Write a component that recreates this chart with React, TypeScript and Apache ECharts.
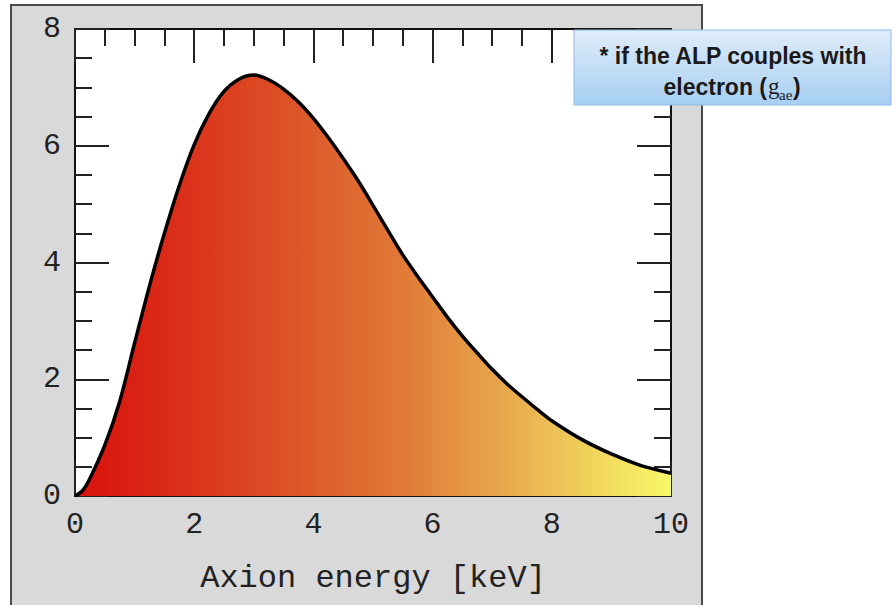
import React, { useEffect, useRef } from "react";
import * as echarts from "echarts";

// Axion energy [keV]
const energy = [0, 0.125, 0.25, 0.5, 0.75, 1, 1.25, 1.5, 1.75, 2, 2.25, 2.5, 2.75, 3, 3.25, 3.5, 3.75, 4, 4.25, 4.5, 4.75, 5, 5.25, 5.5, 5.75, 6, 6.25, 6.5, 6.75, 7, 7.25, 7.5, 7.75, 8, 8.5, 9, 9.5, 10];
// spectrum value
const flux = [0, 0.09, 0.3, 0.87, 1.62, 2.62, 3.6, 4.5, 5.32, 6.02, 6.55, 6.93, 7.14, 7.21, 7.13, 6.97, 6.75, 6.47, 6.14, 5.78, 5.4, 4.98, 4.55, 4.13, 3.76, 3.41, 3.06, 2.74, 2.45, 2.17, 1.92, 1.7, 1.49, 1.29, 0.97, 0.72, 0.52, 0.39];

const xRange = [0, 10];
const yRange = [0, 8];
const majorStep = 2;
const xAxisName = "Axion energy [keV]";
const noteLine1 = "* if the ALP couples with";
const noteLine2 = "electron (";
const noteG = "g";
const noteSub = "ae";
const noteClose = ")";

export default function App() {
  const ref = useRef<HTMLDivElement>(null);
  useEffect(() => {
    if (!ref.current) return;
    const chart = echarts.init(ref.current, null, { renderer: "svg" });
    const mono = "'Liberation Mono', 'DejaVu Sans Mono', monospace";
    const sans = "'Liberation Sans', Arial, sans-serif";
    const serif = "'Liberation Serif', 'Times New Roman', serif";
    const tickCommon = (show: boolean) => ({
      axisLine: { show: true, onZero: false, lineStyle: { color: "#111", width: 2 } },
      axisTick: { show: true, inside: true, length: 34, lineStyle: { color: "#222", width: 2 } },
      minorTick: { show: true, splitNumber: 4, length: 17, lineStyle: { color: "#222", width: 2 } },
      splitLine: { show: false },
      axisLabel: { show },
    });
    const option: any = {
      animation: false,
      backgroundColor: "#ffffff",
      grid: {
        left: 75,
        top: 29,
        right: 221,
        bottom: 109,
        show: true,
        backgroundColor: "#ffffff",
        borderColor: "#111",
        borderWidth: 2,
        containLabel: false,
      },
      xAxis: [
        {
          type: "value",
          min: xRange[0],
          max: xRange[1],
          interval: majorStep,
          position: "bottom",
          name: xAxisName,
          nameLocation: "middle",
          nameGap: 66,
          nameTextStyle: { fontFamily: mono, fontSize: 32, color: "#222" },
          ...tickCommon(true),
          axisLabel: { show: true, fontFamily: mono, fontSize: 30, color: "#222", margin: 14 },
        },
        {
          type: "value",
          min: xRange[0],
          max: xRange[1],
          interval: majorStep,
          position: "top",
          ...tickCommon(false),
        },
      ],
      yAxis: [
        {
          type: "value",
          min: yRange[0],
          max: yRange[1],
          interval: majorStep,
          position: "left",
          ...tickCommon(true),
          axisLabel: { show: true, fontFamily: mono, fontSize: 30, color: "#222", margin: 14 },
        },
        {
          type: "value",
          min: yRange[0],
          max: yRange[1],
          interval: majorStep,
          position: "right",
          ...tickCommon(false),
        },
      ],
      series: [
        {
          type: "line",
          data: energy.map((e, i) => [e, flux[i]]),
          smooth: 0.3,
          symbol: "none",
          lineStyle: { color: "#000", width: 3.5 },
          areaStyle: {
            opacity: 1,
            color: new echarts.graphic.LinearGradient(0, 0, 1, 0, [
              { offset: 0, color: "#d9110d" },
              { offset: 0.15, color: "#da2a17" },
              { offset: 0.35, color: "#dc5127" },
              { offset: 0.55, color: "#e17a37" },
              { offset: 0.7, color: "#e6a24a" },
              { offset: 0.8, color: "#ecc055" },
              { offset: 0.9, color: "#f2dc5e" },
              { offset: 1, color: "#f9f86a" },
            ]),
          },
          z: 1,
        },
      ],
      graphic: [
        {
          type: "rect",
          z: -10,
          silent: true,
          shape: { x: 11, y: 5, width: 691, height: 620 },
          style: { fill: "#d9d9d9", stroke: "#4a4a4a", lineWidth: 2 },
        },
        {
          type: "rect",
          z: 100,
          shape: { x: 574, y: 30, width: 317, height: 75 },
          style: {
            fill: new echarts.graphic.LinearGradient(0, 0, 0, 1, [
              { offset: 0, color: "#e0ecf9" },
              { offset: 1, color: "#a6cff2" },
            ]),
            stroke: "#8fbbe6",
            lineWidth: 1,
          },
        },
        {
          type: "text",
          z: 101,
          x: 733,
          y: 56,
          style: {
            text: noteLine1,
            fontFamily: sans,
            fontWeight: "bold",
            fontSize: 23,
            fill: "#1a1a1a",
            align: "center",
            verticalAlign: "middle",
          },
        },
        {
          type: "text",
          z: 101,
          x: 767,
          y: 87,
          style: {
            text: noteLine2,
            fontFamily: sans,
            fontWeight: "bold",
            fontSize: 23,
            fill: "#1a1a1a",
            align: "right",
            verticalAlign: "middle",
          },
        },
        {
          type: "text",
          z: 101,
          x: 768,
          y: 86,
          style: {
            text: noteG,
            fontFamily: serif,
            fontSize: 23,
            fill: "#1a1a1a",
            align: "left",
            verticalAlign: "middle",
          },
        },
        {
          type: "text",
          z: 101,
          x: 779,
          y: 95,
          style: {
            text: noteSub,
            fontFamily: serif,
            fontSize: 15,
            fill: "#1a1a1a",
            align: "left",
            verticalAlign: "middle",
          },
        },
        {
          type: "text",
          z: 101,
          x: 793,
          y: 87,
          style: {
            text: noteClose,
            fontFamily: sans,
            fontWeight: "bold",
            fontSize: 23,
            fill: "#1a1a1a",
            align: "left",
            verticalAlign: "middle",
          },
        },
      ],
    };
    chart.setOption(option);
    return () => chart.dispose();
  }, []);
  return (
    <div
      ref={ref}
      style={{ position: "fixed", left: 0, top: 0, width: 892, height: 605 }}
    />
  );
}
